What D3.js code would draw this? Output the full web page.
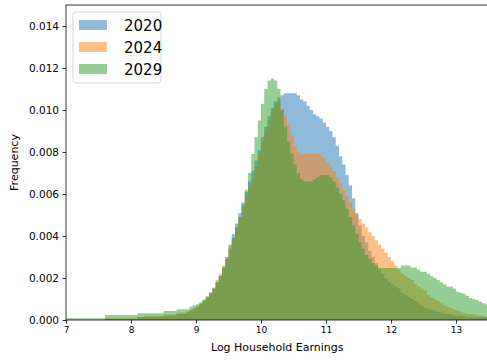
<!DOCTYPE html>
<html>
<head>
<meta charset="utf-8">
<script src="https://cdn.jsdelivr.net/npm/d3@7"></script>
<style>
  html, body { margin: 0; padding: 0; background: #fff; }
  svg { display: block; font-family: "DejaVu Sans", sans-serif; }
</style>
</head>
<body>
<svg id="chart" width="487" height="361"></svg>
<script>
// Histogram bins: left edge of the first bin and common bin width
const binStart = 7.0;
const binWidth = 0.05;

const seriesNames = ["2020", "2024", "2029"];

// Frequency per bin (bins start at 7.00, 7.05, ... 13.45)
const values2020 = [
  0, 0, 0, 0, 0, 0, 0, 0, 0, 0,                                   // 7.00
  0, 0, 0.00005, 0.00005, 0.00005, 0.00005, 0.00005, 0.00005, 0.00005, 0.00005, // 7.50
  0.00005, 0.00005, 0.00014, 0.00014, 0.00014, 0.00014, 0.00014, 0.00014, 0.00014, 0.00014, // 8.00
  0.0002, 0.0002, 0.0002, 0.0002, 0.00028, 0.00028, 0.00028, 0.00036, 0.00045, 0.00053, // 8.50
  0.00062, 0.00075, 0.0009, 0.00107, 0.00127, 0.0015, 0.0018, 0.0021, 0.0025, 0.0030,   // 9.00
  0.0036, 0.0041, 0.0046, 0.0051, 0.0056, 0.0061, 0.0066, 0.0071, 0.0076, 0.0081,       // 9.50
  0.0087, 0.0092, 0.0097, 0.0101, 0.0104, 0.0106, 0.0107, 0.0108, 0.0108, 0.0108,       // 10.00
  0.0108, 0.0107, 0.0105, 0.0104, 0.0102, 0.0100, 0.0098, 0.0097, 0.0096, 0.0094,       // 10.50
  0.0092, 0.0090, 0.0087, 0.0083, 0.0078, 0.0074, 0.0069, 0.0064, 0.0058, 0.0051,       // 11.00
  0.0045, 0.0040, 0.0037, 0.0033, 0.0030, 0.0027, 0.0024, 0.0022, 0.0020, 0.0018,       // 11.50
  0.0017, 0.0016, 0.0015, 0.0013, 0.0012, 0.0011, 0.0010, 0.0009, 0.0008, 0.0007,       // 12.00
  0.0006, 0.00055, 0.0005, 0.00045, 0.0004, 0.00035, 0.0003, 0.00028, 0.00025, 0.0002,  // 12.50
  0.0002, 0.0002, 0.0002, 0.00013, 0.00013, 0.00013, 0.00013, 0.00013, 0.00013, 0.00013 // 13.00
];

const values2024 = [
  0, 0, 0, 0, 0, 0, 0, 0, 0, 0,                                   // 7.00
  0, 0, 0.00008, 0.00008, 0.00008, 0.00008, 0.00008, 0.00008, 0.00008, 0.00008, // 7.50
  0.00008, 0.00008, 0.00014, 0.00014, 0.0002, 0.0002, 0.0002, 0.0002, 0.0002, 0.0002, // 8.00
  0.00026, 0.00026, 0.00026, 0.00026, 0.00034, 0.00034, 0.00034, 0.00043, 0.0005, 0.00058, // 8.50
  0.00068, 0.0008, 0.00095, 0.00112, 0.00132, 0.00155, 0.0019, 0.0022, 0.0026, 0.0030, // 9.00
  0.0035, 0.0039, 0.0044, 0.0049, 0.0054, 0.0059, 0.0063, 0.0067, 0.0073, 0.0079,       // 9.50
  0.0085, 0.0090, 0.0095, 0.0099, 0.0102, 0.0104, 0.0101, 0.0097, 0.0093, 0.0088,       // 10.00
  0.0083, 0.0080, 0.0079, 0.0079, 0.0079, 0.0079, 0.0079, 0.0079, 0.0078, 0.0077,       // 10.50
  0.0075, 0.0073, 0.0071, 0.0068, 0.0065, 0.0062, 0.0059, 0.0056, 0.0053, 0.0050,       // 11.00
  0.0048, 0.0046, 0.0044, 0.0042, 0.0040, 0.0038, 0.0036, 0.0034, 0.0032, 0.0030,       // 11.50
  0.0028, 0.0026, 0.0024, 0.0022, 0.0021, 0.0020, 0.0019, 0.0017, 0.0016, 0.0015,       // 12.00
  0.0014, 0.0012, 0.0011, 0.0010, 0.0009, 0.0008, 0.0007, 0.00063, 0.00057, 0.0005,     // 12.50
  0.00045, 0.0004, 0.00035, 0.0003, 0.00028, 0.00026, 0.00024, 0.0002, 0.00018, 0.00016 // 13.00
];

const values2029 = [
  0.00008, 0.00008, 0.00008, 0.00008, 0.00008, 0.00008, 0.00008, 0.00008, 0.00008, 0.00008, // 7.00
  0.00008, 0.00008, 0.00024, 0.00024, 0.00024, 0.00024, 0.00024, 0.00024, 0.00024, 0.00024, // 7.50
  0.00024, 0.00024, 0.00032, 0.00032, 0.00032, 0.00032, 0.00032, 0.00032, 0.00032, 0.00032, // 8.00
  0.00043, 0.00043, 0.00043, 0.00043, 0.00051, 0.00051, 0.00051, 0.00051, 0.00063, 0.0007,  // 8.50
  0.00075, 0.00085, 0.00098, 0.00112, 0.0013, 0.0015, 0.0018, 0.0021, 0.0025, 0.0029,  // 9.00
  0.0034, 0.0039, 0.0044, 0.0049, 0.0055, 0.0062, 0.0070, 0.0079, 0.0087, 0.0095,      // 9.50
  0.0103, 0.0110, 0.0114, 0.0115, 0.0114, 0.0110, 0.0100, 0.0092, 0.0085, 0.0079,      // 10.00
  0.0074, 0.0070, 0.0067, 0.0066, 0.0066, 0.0066, 0.0067, 0.0068, 0.0069, 0.0069,      // 10.50
  0.0069, 0.0068, 0.0066, 0.0063, 0.0060, 0.0057, 0.0053, 0.0049, 0.0045, 0.0041,      // 11.00
  0.0037, 0.0034, 0.0031, 0.0029, 0.0027, 0.0026, 0.00248, 0.00248, 0.00248, 0.00248,  // 11.50
  0.00248, 0.00248, 0.00248, 0.0026, 0.0026, 0.0026, 0.0025, 0.0025, 0.0024, 0.0023,   // 12.00
  0.0023, 0.0022, 0.0021, 0.0020, 0.0019, 0.0018, 0.0017, 0.0016, 0.0016, 0.0015,      // 12.50
  0.00135, 0.0013, 0.00125, 0.00115, 0.00105, 0.001, 0.00095, 0.00088, 0.0008, 0.00075 // 13.00
];

const seriesColors = ["#1f77b4", "#ff7f0e", "#2ca02c"];
const xTicks = [7, 8, 9, 10, 11, 12, 13];
const yTicks = [0, 0.002, 0.004, 0.006, 0.008, 0.010, 0.012, 0.014];
const xDomain = [7, 13.5];
const yDomain = [0, 0.015];

const seriesList = [values2020, values2024, values2029].map((vals, k) => ({
  name: seriesNames[k],
  color: seriesColors[k],
  values: vals
}));

const svg = d3.select("#chart");
const plot = { left: 66, right: 488.5, top: 5, bottom: 320 };

const x = d3.scaleLinear().domain(xDomain).range([plot.left, plot.right]);
const y = d3.scaleLinear().domain(yDomain).range([plot.bottom, plot.top]);

svg.append("clipPath").attr("id", "plotClip")
  .append("rect")
  .attr("x", plot.left).attr("y", plot.top)
  .attr("width", plot.right - plot.left).attr("height", plot.bottom - plot.top);

// Step outline of each histogram, filled with half-transparent colour
const area = d3.area()
  .curve(d3.curveStepAfter)
  .x(d => x(d.x))
  .y0(y(0))
  .y1(d => y(d.v));

const histLayer = svg.append("g").attr("clip-path", "url(#plotClip)");
seriesList.forEach(s => {
  const pts = s.values.map((v, i) => ({ x: binStart + i * binWidth, v }));
  pts.push({ x: binStart + s.values.length * binWidth, v: s.values[s.values.length - 1] });
  histLayer.append("path")
    .datum(pts)
    .attr("d", area)
    .attr("fill", s.color)
    .attr("fill-opacity", 0.5);
});

// Axes
const xAxis = d3.axisBottom(x).tickValues(xTicks).tickFormat(d3.format("d"))
  .tickSizeInner(3.5).tickSizeOuter(0).tickPadding(3.5);
const yAxis = d3.axisLeft(y).tickValues(yTicks).tickFormat(d3.format(".3f"))
  .tickSizeInner(3.5).tickSizeOuter(0).tickPadding(3.5);

const gx = svg.append("g").attr("transform", `translate(0,${plot.bottom})`).call(xAxis);
gx.select(".domain").remove();
gx.selectAll("text").attr("font-size", 9).attr("fill", "#000")
  .attr("font-family", "DejaVu Sans, sans-serif");
gx.selectAll("line").attr("stroke", "#000").attr("stroke-width", 0.8);

const gy = svg.append("g").attr("transform", `translate(${plot.left},0)`).call(yAxis);
gy.select(".domain").remove();
gy.selectAll("text").attr("font-size", 10.5).attr("fill", "#000")
  .attr("font-family", "DejaVu Sans, sans-serif");
gy.selectAll("line").attr("stroke", "#000").attr("stroke-width", 0.8);

// Frame
svg.append("rect")
  .attr("x", plot.left).attr("y", plot.top)
  .attr("width", plot.right - plot.left).attr("height", plot.bottom - plot.top)
  .attr("fill", "none").attr("stroke", "#000").attr("stroke-width", 0.8);

// Axis titles
svg.append("text")
  .attr("x", (plot.left + plot.right) / 2).attr("y", 351)
  .attr("text-anchor", "middle").attr("font-size", 11).attr("fill", "#000")
  .text("Log Household Earnings");

svg.append("text")
  .attr("transform", `translate(18,${(plot.top + plot.bottom) / 2}) rotate(-90)`)
  .attr("text-anchor", "middle").attr("font-size", 11).attr("fill", "#000")
  .text("Frequency");

// Legend
const legend = svg.append("g").attr("transform", "translate(73,12)");
legend.append("rect")
  .attr("width", 88).attr("height", 71).attr("rx", 3)
  .attr("fill", "#fff").attr("fill-opacity", 0.8)
  .attr("stroke", "#cccccc").attr("stroke-width", 0.8);
seriesList.forEach((s, k) => {
  const row = legend.append("g").attr("transform", `translate(6,${8 + k * 22})`);
  row.append("rect").attr("width", 28).attr("height", 10)
    .attr("fill", s.color).attr("fill-opacity", 0.5);
  row.append("text").attr("x", 45).attr("y", 10.5)
    .attr("font-size", 15).attr("fill", "#000").text(s.name);
});
</script>
</body>
</html>
